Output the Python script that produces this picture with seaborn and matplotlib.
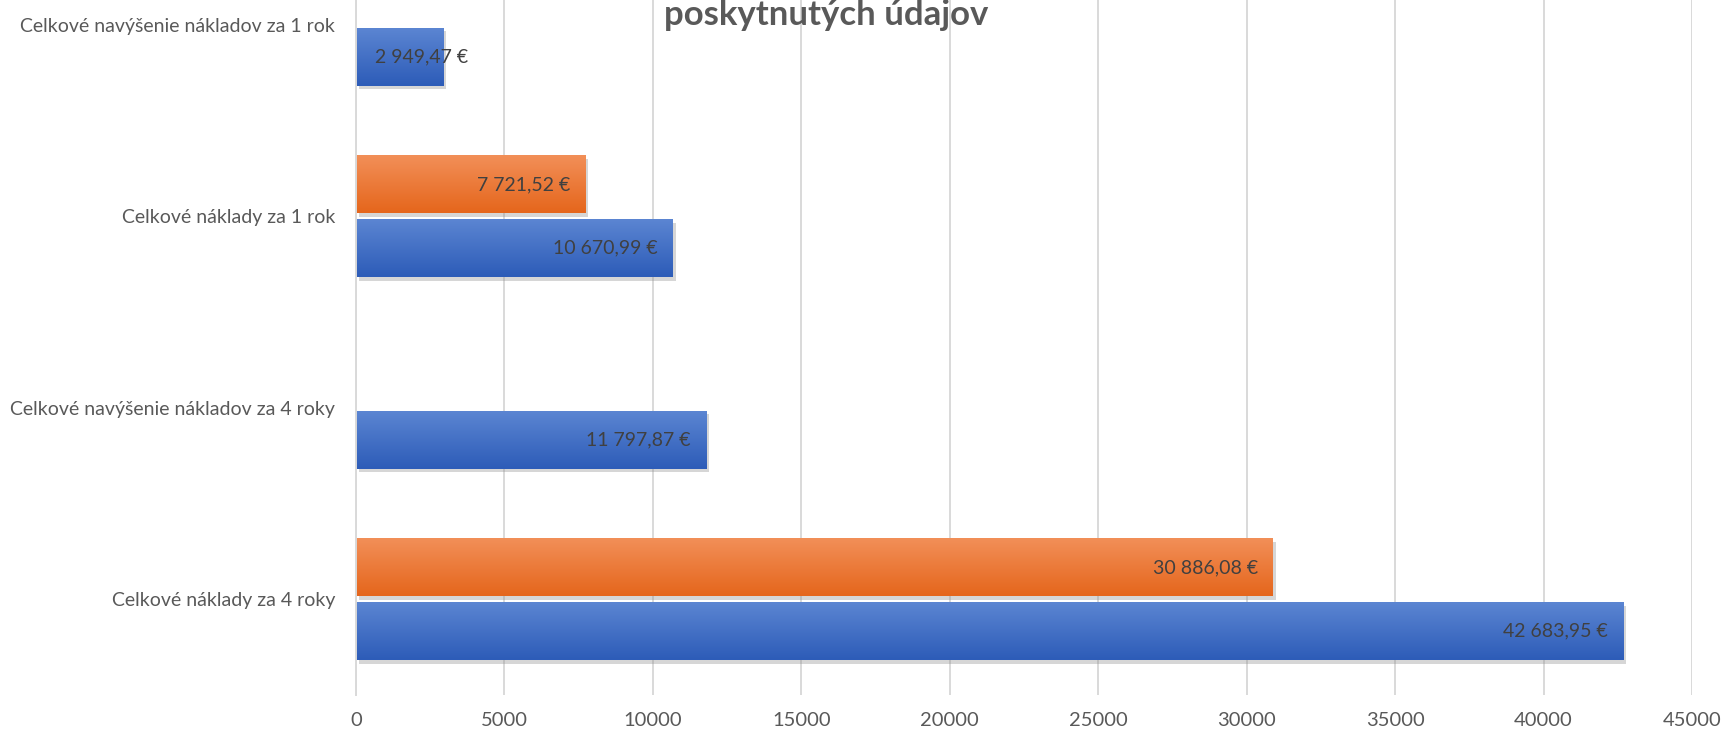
import matplotlib
matplotlib.use("Agg")
import matplotlib.pyplot as plt
import matplotlib.patheffects as pe
import numpy as np
import pandas as pd
import seaborn as sns
from matplotlib.colors import to_rgb

categories = [
    "Celkové navýšenie nákladov za 1 rok",
    "Celkové náklady za 1 rok",
    "Celkové navýšenie nákladov za 4 roky",
    "Celkové náklady za 4 roky",
]
series_names = ["Séria 2", "Séria 1"]  # orange drawn above blue in each group
orange_values = [np.nan, 7721.52, np.nan, 30886.08]
blue_values = [2949.47, 10670.99, 11797.87, 42683.95]
x_ticks = [0, 5000, 10000, 15000, 20000, 25000, 30000, 35000, 40000, 45000]
title_line = "poskytnutých údajov"

palette = {"Séria 2": "#ED7D31", "Séria 1": "#4472C4"}
gradients = {
    "Séria 2": ("#F28F58", "#E5661C"),
    "Séria 1": ("#5B85D2", "#2D5CB8"),
}

df = pd.DataFrame({
    "kategoria": categories * 2,
    "seria": [series_names[0]] * 4 + [series_names[1]] * 4,
    "hodnota": orange_values + blue_values,
}).dropna()

sns.set_style("white")
plt.rcParams["font.family"] = ["Lato", "DejaVu Sans"]

fig = plt.figure(figsize=(17.24, 7.32), dpi=100)
# plot area extends above the visible canvas (the source image is cropped)
ax = fig.add_axes([356 / 1724, 37 / 732, 1336 / 1724, 766 / 732])

sns.barplot(
    data=df, x="hodnota", y="kategoria", hue="seria",
    order=categories, hue_order=series_names, palette=palette,
    orient="h", width=0.665, gap=0.09, errorbar=None, legend=False, ax=ax,
)

# gradient fill + soft shadow on every bar
for container, name in zip(ax.containers, series_names):
    top_c, bot_c = gradients[name]
    grad = np.linspace(to_rgb(top_c), to_rgb(bot_c), 64).reshape(64, 1, 3)
    for bar in container:
        w = bar.get_width()
        if not np.isfinite(w) or w <= 0:
            continue
        x0, y0 = bar.get_x(), bar.get_y()
        h = bar.get_height()
        bar.set_edgecolor("none")
        bar.set_path_effects([
            pe.SimplePatchShadow(offset=(2, -2.5), shadow_rgbFace="#8C8C8C", alpha=0.35),
            pe.Normal(),
        ])
        img = ax.imshow(grad, extent=(x0, x0 + w, y0 + h, y0), aspect="auto",
                        origin="upper", zorder=bar.get_zorder() + 0.1,
                        interpolation="bilinear")
        img.set_clip_path(bar)
ax.set_xlim(0, 45000)
ax.set_ylim(3.5, -0.5)
ax.set_aspect("auto")

# value labels at inside end
fig.canvas.draw()
renderer = fig.canvas.get_renderer()
x_zero_px = ax.transData.transform((0, 0))[0]
for container in ax.containers:
    for bar in container:
        w = bar.get_width()
        if not np.isfinite(w) or w <= 0:
            continue
        yc = bar.get_y() + bar.get_height() / 2
        label = f"{w:,.2f}".replace(",", " ").replace(".", ",") + " €"
        t = ax.annotate(label, (w, yc), xytext=(-11, 0), textcoords="offset points",
                        ha="right", va="center", fontsize=14, color="#404040", zorder=5)
        bb = t.get_window_extent(renderer)
        if bb.x0 < x_zero_px + 10:
            t.xy = (0, yc)
            t.set_ha("left")
            t.set_position((14, 0))

ax.set_xticks(x_ticks)
ax.set_xticklabels([str(v) for v in x_ticks])
ax.grid(axis="x", color="#D9D9D9", linewidth=1.4)
ax.set_axisbelow(True)
ax.tick_params(axis="x", length=0, pad=12, labelsize=14.5, labelcolor="#595959")
ax.tick_params(axis="y", length=0, pad=15, labelsize=14, labelcolor="#595959")
ax.set_xlabel("")
ax.set_ylabel("")
for side in ["top", "right", "bottom"]:
    ax.spines[side].set_visible(False)
ax.spines["left"].set_color("#D9D9D9")
ax.spines["left"].set_linewidth(1.4)

fig.text(826 / 1724, 1 - 25 / 732, title_line, ha="center", va="baseline",
         fontsize=25, fontweight="bold", color="#595959")

fig.savefig("out.png", dpi=100)
